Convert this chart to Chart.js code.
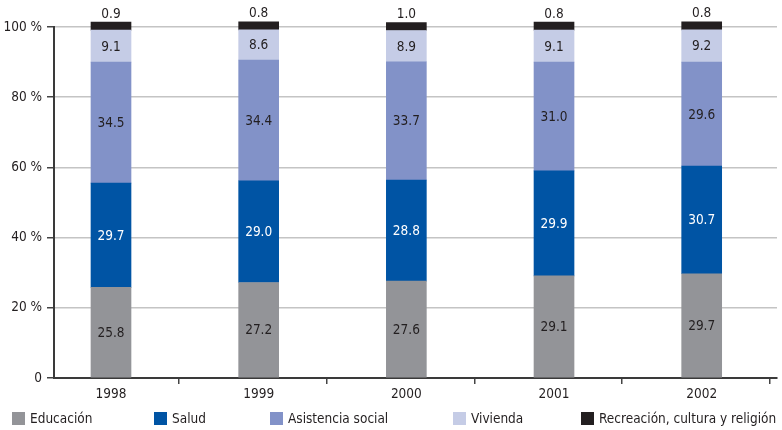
<!DOCTYPE html>
<html>
<head>
<meta charset="utf-8">
<script src="https://cdn.jsdelivr.net/npm/chart.js@4.4.1/dist/chart.umd.min.js"></script>
<style>
  html, body { margin: 0; padding: 0; background: #fff; }
  #wrap { width: 782px; height: 430px; }
</style>
</head>
<body>
<div id="wrap"><canvas id="dispChart" width="782" height="430"></canvas></div>
<script>
  // data
  const years = ['1998', '1999', '2000', '2001', '2002'];
  const educacion = [25.8, 27.2, 27.6, 29.1, 29.7];
  const salud = [29.7, 29.0, 28.8, 29.9, 30.7];
  const asistencia = [34.5, 34.4, 33.7, 31.0, 29.6];
  const vivienda = [9.1, 8.6, 8.9, 9.1, 9.2];
  const recreacion = [0.9, 0.8, 1.0, 0.8, 0.8];
  const yTicks = [0, 20, 40, 60, 80, 100];

  const FONT = "'Liberation Sans Narrow', 'DejaVu Sans Condensed', 'Arial Narrow', sans-serif";
  const FSIZE = 13.5;
  const TEXT = '#231f20';

  const toPoints = arr => arr.map((v, i) => ({ x: i, y: v }));

  const data = {
    datasets: [
      { label: 'Educación', data: toPoints(educacion), backgroundColor: '#939498', valColor: TEXT },
      { label: 'Salud', data: toPoints(salud), backgroundColor: '#0054a4', valColor: '#ffffff' },
      { label: 'Asistencia social', data: toPoints(asistencia), backgroundColor: '#8292c8', valColor: TEXT },
      { label: 'Vivienda', data: toPoints(vivienda), backgroundColor: '#c5cce6', valColor: TEXT },
      { label: 'Recreación, cultura y religión', data: toPoints(recreacion), backgroundColor: '#231f20', valColor: TEXT, minBarLength: 8 }
    ]
  };

  // value labels inside / above the bars
  const valueLabels = {
    id: 'valueLabels',
    afterDatasetsDraw(chart) {
      const ctx = chart.ctx;
      const last = chart.data.datasets.length - 1;
      ctx.save();
      ctx.font = FSIZE + 'px ' + FONT;
      ctx.textAlign = 'center';
      ctx.textBaseline = 'middle';
      chart.data.datasets.forEach((ds, d) => {
        chart.getDatasetMeta(d).data.forEach((bar, i) => {
          const y = d === last ? bar.y - 9 : (bar.y + bar.base) / 2;
          ctx.fillStyle = ds.valColor;
          ctx.fillText(ds.data[i].y.toFixed(1), bar.x, y + 1);
        });
      });
      ctx.restore();
    }
  };

  // legend row at the bottom
  const legendX = [12, 154, 270, 453, 581];
  const bottomLegend = {
    id: 'bottomLegend',
    afterDraw(chart) {
      const ctx = chart.ctx;
      ctx.save();
      ctx.font = FSIZE + 'px ' + FONT;
      ctx.textAlign = 'left';
      ctx.textBaseline = 'middle';
      chart.data.datasets.forEach((ds, d) => {
        const x = legendX[d];
        ctx.fillStyle = ds.backgroundColor;
        ctx.fillRect(x, 412, 13, 13);
        ctx.fillStyle = TEXT;
        ctx.fillText(ds.label, x + 18, 419);
      });
      ctx.restore();
    }
  };

  const config = {
    type: 'bar',
    data: data,
    options: {
      responsive: false,
      animation: false,
      barThickness: 40,
      clip: false,
      layout: { padding: { top: 27, right: 5, left: 0, bottom: 0 } },
      plugins: {
        legend: { display: false },
        tooltip: { enabled: false }
      },
      scales: {
        x: {
          type: 'linear',
          stacked: true,
          offset: false,
          min: -0.386,
          max: 4.51,
          afterBuildTicks: axis => {
            const t = [];
            years.forEach((y, i) => { t.push({ value: i }); t.push({ value: i + 0.46 }); });
            axis.ticks = t;
          },
          afterFit: axis => { axis.height = 52; },
          grid: {
            offset: false,
            drawOnChartArea: false,
            drawTicks: true,
            tickLength: 6,
            lineWidth: 1.5,
            color: c => (c.tick && Number.isInteger(c.tick.value)) ? 'rgba(0,0,0,0)' : '#444'
          },
          border: { color: '#3a3a3a', width: 2 },
          ticks: {
            autoSkip: false,
            maxRotation: 0,
            padding: 2,
            color: TEXT,
            font: { family: FONT, size: FSIZE },
            callback: v => Number.isInteger(v) ? years[v] : ''
          }
        },
        y: {
          stacked: true,
          min: 0,
          max: 100,
          afterBuildTicks: axis => { axis.ticks = yTicks.map(v => ({ value: v })); },
          afterFit: axis => { axis.width = 54; },
          grid: {
            color: '#c4c4c4',
            lineWidth: 1.5,
            drawTicks: true,
            tickLength: 7,
            tickColor: '#444'
          },
          border: { color: '#3a3a3a', width: 2 },
          ticks: {
            padding: 5,
            color: TEXT,
            font: { family: FONT, size: FSIZE },
            callback: v => v === 0 ? '0' : v + ' %'
          }
        }
      }
    },
    plugins: [valueLabels, bottomLegend]
  };

  const myChart = new Chart(document.getElementById('dispChart'), config);
</script>
</body>
</html>
